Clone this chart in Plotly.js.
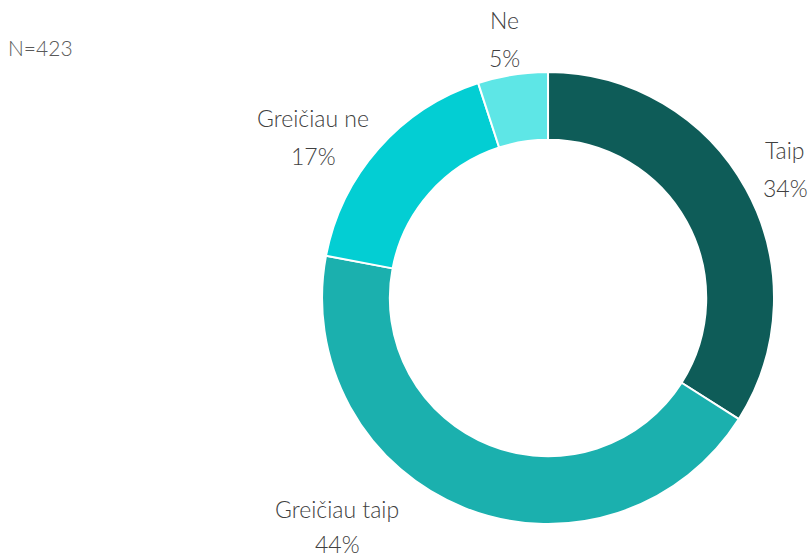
<!DOCTYPE html>
<html>
<head>
<meta charset="utf-8">
<script src="https://cdn.plot.ly/plotly-3.0.1.min.js"></script>
<style>html,body{margin:0;padding:0;background:#fff;}#chart{width:808px;height:560px;}</style>
</head>
<body>
<div id="chart"></div>
<script>
const categories = ["Taip", "Greičiau taip", "Greičiau ne", "Ne"];
const values = [34, 44, 17, 5];
const colors = ["#0E5C58", "#1BB0AE", "#03CED3", "#5EE6E6"];
const sampleNote = "N=423";

// Label block centres (pixels), placed like the original's outside data labels
const labelCenters = [[785, 169], [337, 528], [313, 137], [504, 39]];
const W = 808, H = 560, lineGap = 19;
const labelFont = {family: "Lato, Open Sans, sans-serif", size: 23, color: "#404040", weight: 300};

const trace = {
  type: "pie",
  labels: categories,
  values: values,
  sort: false,
  direction: "clockwise",
  rotation: 0,
  hole: 0.7,
  marker: {colors: colors, line: {color: "#ffffff", width: 2}},
  textinfo: "none",
  hoverinfo: "label+percent",
  domain: {x: [0.3985, 0.958], y: [0.0643, 0.8714]},
  showlegend: false
};

const total = values.reduce((a, b) => a + b, 0);
const annotations = [];
categories.forEach((c, i) => {
  const [cx, cy] = labelCenters[i];
  const pct = Math.round(values[i] / total * 100) + "%";
  const y2 = Math.min(cy + lineGap, H - 16);
  annotations.push({text: c, xref: "paper", yref: "paper", x: cx / W, y: 1 - (cy - lineGap) / H,
    xanchor: "center", yanchor: "middle", showarrow: false, font: labelFont});
  annotations.push({text: pct, xref: "paper", yref: "paper", x: cx / W, y: 1 - y2 / H,
    xanchor: "center", yanchor: "middle", showarrow: false, font: labelFont});
});
annotations.push({
  text: sampleNote, xref: "paper", yref: "paper", x: 40 / W, y: 1 - 47 / H,
  xanchor: "center", yanchor: "middle", showarrow: false,
  font: {family: "Lato, Open Sans, sans-serif", size: 21, color: "#595959", weight: 300}
});

const layout = {
  width: W, height: H,
  margin: {l: 0, r: 0, t: 0, b: 0},
  paper_bgcolor: "#ffffff",
  annotations: annotations
};

Plotly.newPlot("chart", [trace], layout, {displayModeBar: false, staticPlot: true});
</script>
</body>
</html>
